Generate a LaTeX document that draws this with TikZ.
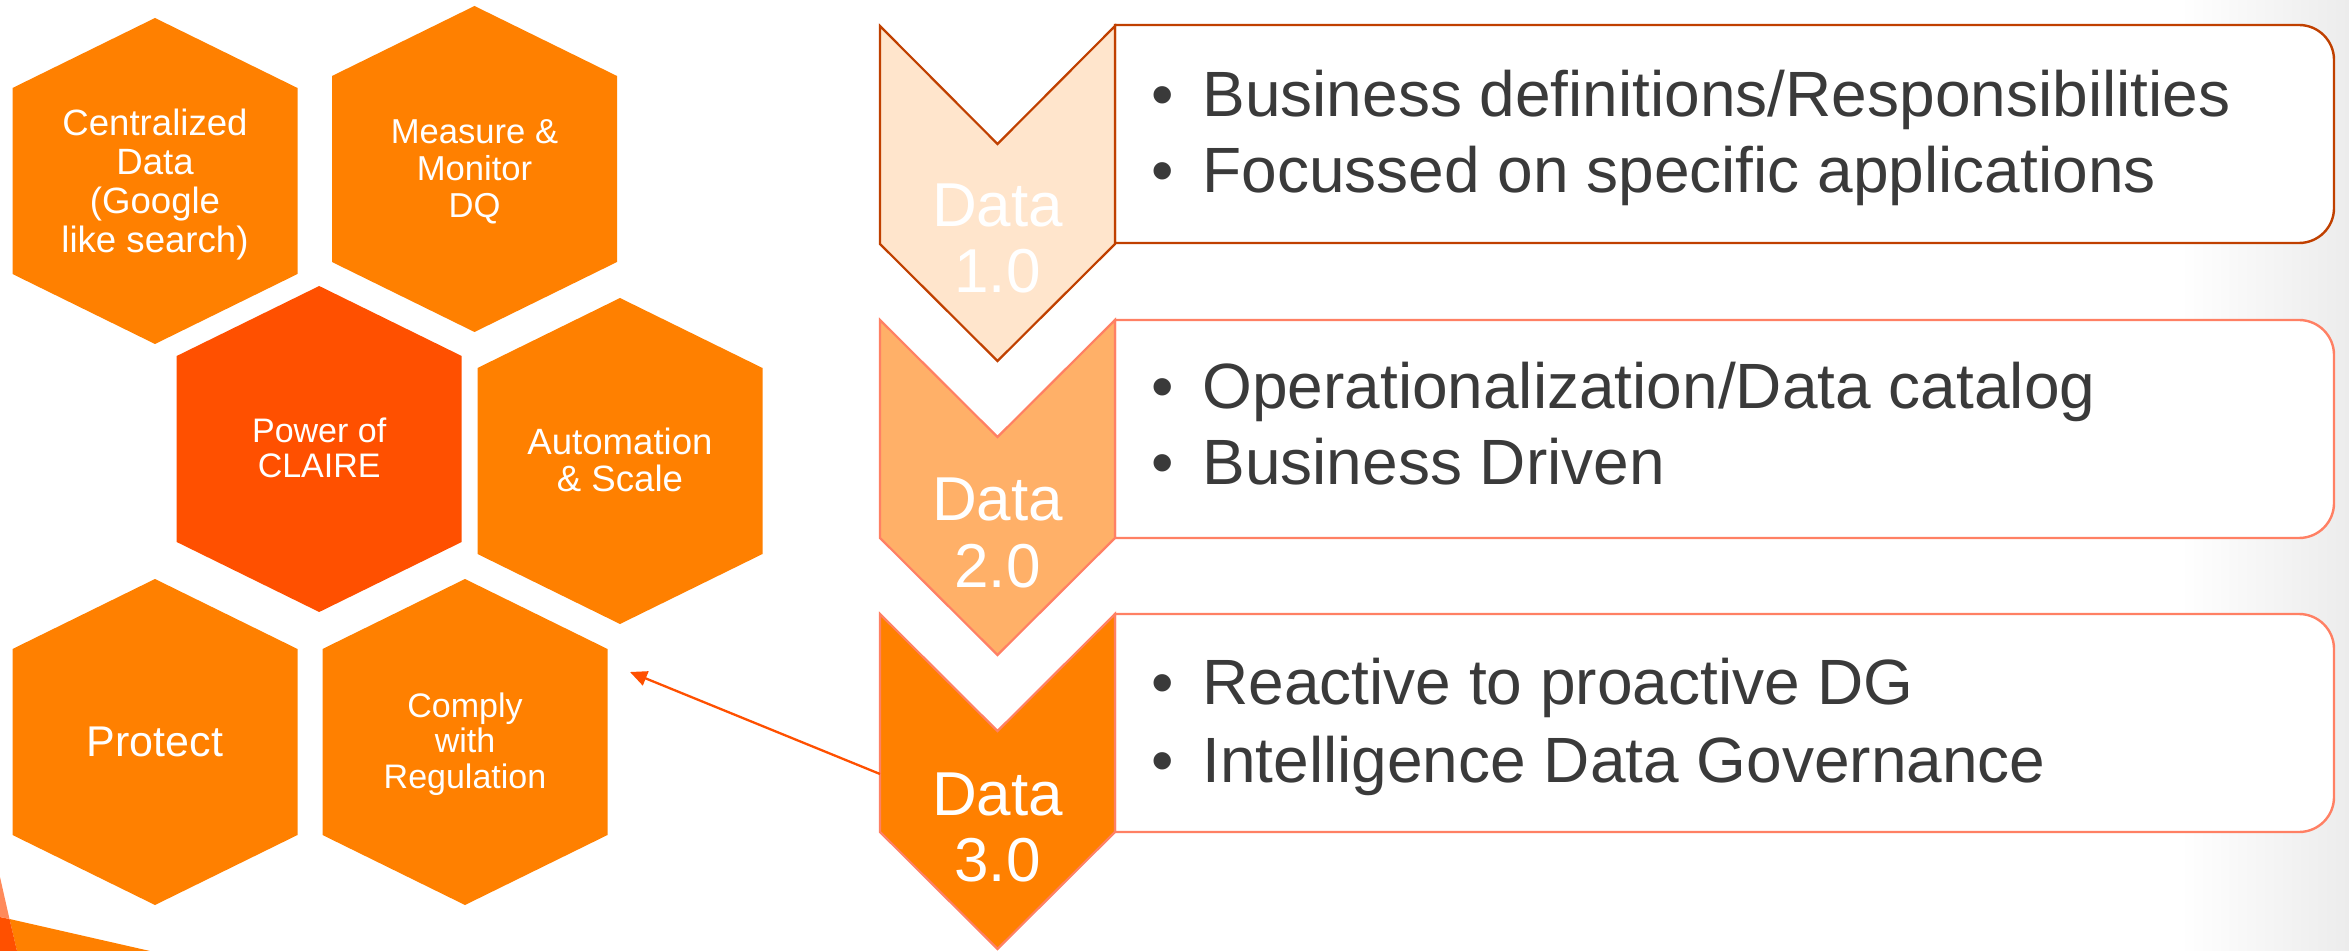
\documentclass[tikz,border=0pt]{standalone}
\usepackage{fontspec}
\setmainfont{Liberation Sans}
\usetikzlibrary{arrows.meta}
\definecolor{hexorange}{RGB}{255,128,0}
\definecolor{hexred}{RGB}{255,80,0}
\definecolor{peach}{RGB}{255,229,204}
\definecolor{lightor}{RGB}{255,176,104}
\definecolor{darkedge}{RGB}{192,64,0}
\definecolor{salmonedge}{RGB}{255,128,100}
\definecolor{txtgray}{RGB}{58,58,58}
\definecolor{arrowred}{RGB}{255,80,0}
\definecolor{bgedge}{RGB}{236,236,236}
\definecolor{decosalmon}{RGB}{255,138,90}
\tikzset{
  hexa/.pic={\path[pic actions] (0,-163) -- (142.5,-93) -- (142.5,93) -- (0,163) -- (-142.5,93) -- (-142.5,-93) -- cycle;},
  hextext/.style={text=white, align=center, inner sep=0pt},
  bullettext/.style={text=txtgray, anchor=base west, inner sep=0pt, font=\fontsize{32}{38}\selectfont},
  datalabel/.style={text=white, anchor=base, inner sep=0pt, font=\fontsize{31}{36}\selectfont},
  boxline/.style={line width=1.2pt, fill=white},
}
\newcommand{\bl}[1]{\makebox[25.5pt][l]{\textbullet}#1}
\begin{document}
\begin{tikzpicture}[x=0.5pt,y=-0.5pt]
\useasboundingbox (0,0) rectangle (2349,951);
% background
\fill[white] (0,0) rectangle (2349,951);
\shade[left color=white, right color=bgedge] (2180,0) rectangle (2349,951);
% bottom-left decoration
\fill[hexorange] (9.5,919) -- (150,951) -- (17,951) -- cycle;
\fill[hexred] (0,917) -- (9.5,919) -- (17,951) -- (0,951) -- cycle;
\fill[decosalmon] (0,877) -- (9.5,919) -- (0,917) -- cycle;

% text boxes
\draw[boxline, draw=darkedge] (1115,25) -- (1500,25) [rounded corners=17.5pt] -- (2334,25) -- (2334,243) -- (1500,243) [sharp corners] -- (1115,243) -- cycle;
\draw[boxline, draw=salmonedge] (1115,320) -- (1500,320) [rounded corners=17.5pt] -- (2334,320) -- (2334,538) -- (1500,538) [sharp corners] -- (1115,538) -- cycle;
\draw[boxline, draw=salmonedge] (1115,614) -- (1500,614) [rounded corners=17.5pt] -- (2334,614) -- (2334,832) -- (1500,832) [sharp corners] -- (1115,832) -- cycle;

% chevrons
\draw[line width=1.1pt, draw=darkedge, fill=peach] (880,26) -- (997.5,144) -- (1115,26) -- (1115,244) -- (997.5,361) -- (880,244) -- cycle;
\draw[line width=1.1pt, draw=salmonedge, fill=lightor] (880,320) -- (997.5,437) -- (1115,320) -- (1115,538) -- (997.5,655) -- (880,538) -- cycle;
\draw[line width=1.1pt, draw=salmonedge, fill=hexorange] (880,614) -- (997.5,731) -- (1115,614) -- (1115,832) -- (997.5,949) -- (880,832) -- cycle;

% chevron labels
\node[datalabel] (d1a) at (997.5,227) {Data};
\node[datalabel] (d1b) at (997.5,293) {1.0};
\node[datalabel] (d2a) at (997.5,521) {Data};
\node[datalabel] (d2b) at (997.5,587) {2.0};
\node[datalabel] (d3a) at (997.5,815) {Data};
\node[datalabel] (d3b) at (997.5,881) {3.0};

% bullet texts
\node[bullettext] (b1a) at (1151,117) {\bl{Business definitions/Responsibilities}};
\node[bullettext] (b1b) at (1151,193) {\bl{Focussed on specific applications}};
\node[bullettext] (b2a) at (1151,409) {\bl{Operationalization/Data catalog}};
\node[bullettext] (b2b) at (1151,485) {\bl{Business Driven}};
\node[bullettext] (b3a) at (1151,704) {\bl{Reactive to proactive DG}};
\node[bullettext] (b3b) at (1151,782) {\bl{Intelligence Data Governance}};

% hexagons
\pic[fill=hexorange] at (155,181) {hexa};
\pic[fill=hexorange] at (474.5,169) {hexa};
\pic[fill=hexred] at (319.2,449) {hexa};
\pic[fill=hexorange] at (620,461) {hexa};
\pic[fill=hexorange] at (155,742) {hexa};
\pic[fill=hexorange] at (465,742) {hexa};

\node[hextext, font=\fontsize{18.3}{19.5}\selectfont] (h1) at (155,185) {Centralized\\Data\\(Google\\like search)};
\node[hextext, font=\fontsize{17.3}{18.5}\selectfont] (h2) at (474.5,172) {Measure \&\\Monitor\\DQ};
\node[hextext, font=\fontsize{17}{17.5}\selectfont] (h3) at (319.2,448) {Power of\\CLAIRE};
\node[hextext, font=\fontsize{18.3}{18.75}\selectfont] (h4) at (620,460) {Automation\\\& Scale};
\node[hextext, font=\fontsize{21.5}{24}\selectfont] (h5) at (155,742) {Protect};
\node[hextext, font=\fontsize{17}{17.75}\selectfont] (h6) at (465,744) {Comply\\with\\Regulation};

% arrow
\coordinate (arrstart) at (880,774);
\coordinate (arrtip) at (630,672);
\draw[arrowred, line width=1.15pt, -{Triangle[length=8.5pt,width=7.5pt]}] (arrstart) -- (arrtip);
\end{tikzpicture}
\end{document}
